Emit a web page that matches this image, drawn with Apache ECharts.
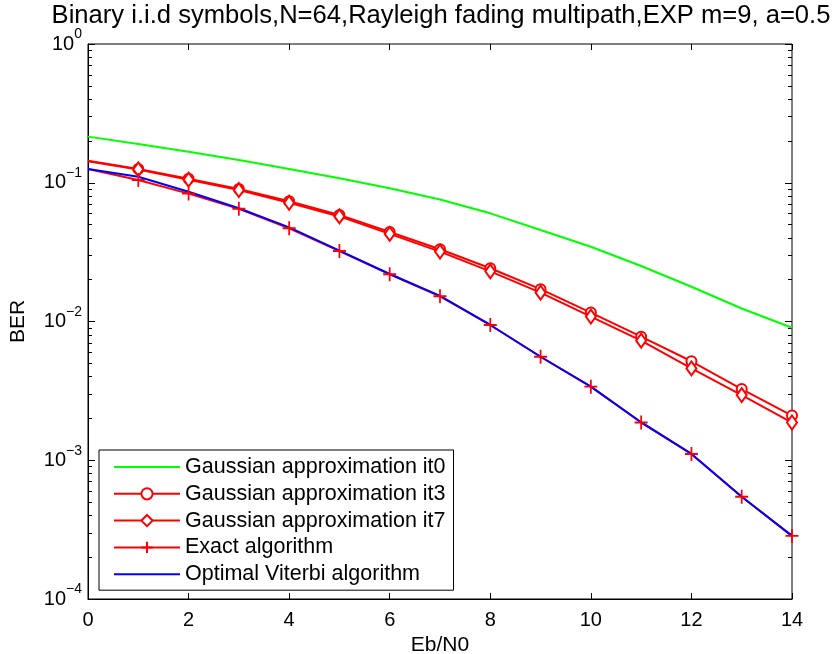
<!DOCTYPE html>
<html>
<head>
<meta charset="utf-8">
<script src="https://cdn.jsdelivr.net/npm/echarts@6/dist/echarts.min.js"></script>
<style>
html,body{margin:0;padding:0;background:#fff;}
#chart{width:840px;height:654px;}
</style>
</head>
<body>
<div id="chart"></div>
<script>
// ---- data ----
const ebn0 = [0, 1, 2, 3, 4, 5, 6, 7, 8, 9, 10, 11, 12, 13, 14];
const gaussIt0 = [0.215, 0.190, 0.1675, 0.146, 0.1257, 0.1076, 0.0912, 0.0758, 0.0602, 0.0456, 0.0346, 0.0251, 0.0178, 0.0124, 0.00902];
const gaussIt3 = [0.1441, 0.1257, 0.1070, 0.0901, 0.0735, 0.0586, 0.0442, 0.0332, 0.0242, 0.0171, 0.0116, 0.00778, 0.00517, 0.00326, 0.00210];
const gaussIt7 = [0.1429, 0.1247, 0.1052, 0.0886, 0.0717, 0.0572, 0.0428, 0.0319, 0.0230, 0.01613, 0.01085, 0.00728, 0.00459, 0.00295, 0.00187];
const exactAlg = [0.1257, 0.1047, 0.0835, 0.0650, 0.0470, 0.0322, 0.0219, 0.0152, 0.00944, 0.00557, 0.00339, 0.00187, 0.00111, 0.000546, 0.000285];
const viterbi  = [0.1257, 0.1106, 0.0862, 0.0655, 0.0477, 0.0324, 0.0220, 0.0153, 0.00944, 0.00557, 0.00339, 0.00188, 0.00111, 0.000546, 0.000285];
const seriesNames = ['Gaussian approximation it0', 'Gaussian approximation it3', 'Gaussian approximation it7', 'Exact algorithm', 'Optimal Viterbi algorithm'];
const xTickStep = 2;
const yDecades = [-4, -3, -2, -1, 0];
const minorMultipliers = [2, 3, 4, 5, 6, 7, 8, 9];
const titleText = 'Binary i.i.d symbols,N=64,Rayleigh fading multipath,EXP m=9, a=0.5';

// ---- helpers ----
function pairs(ys, markFirst) {
  return ebn0.map((x, i) => (i === 0 && markFirst === false) ? { value: [x, ys[i]], symbol: 'none' } : [x, ys[i]]);
}
const minorLog = [];
for (let d = yDecades[0]; d < yDecades[yDecades.length - 1]; d++) {
  minorMultipliers.forEach(k => minorLog.push(d + Math.log10(k)));
}
const majorLog = yDecades.slice();

const plusPath = 'path://M0,7L14,7M7,0L7,14';
const black = '#000';
const red = '#ff0000';

const chart = echarts.init(document.getElementById('chart'), null, { renderer: 'canvas' });

const tickOnlyY = (pos, ticks, len) => ({
  type: 'value', min: yDecades[0], max: yDecades[yDecades.length - 1], position: pos,
  axisLine: { show: false, onZero: false },
  axisLabel: { show: false },
  splitLine: { show: false },
  axisTick: { show: true, inside: true, length: len, lineStyle: { color: black, width: 1 }, customValues: ticks }
});

const option = {
  backgroundColor: '#fff',
  animation: false,
  textStyle: { fontFamily: 'Liberation Sans, Arial, sans-serif' },
  title: {
    text: titleText,
    left: 441, top: 3, textAlign: 'center', padding: 0,
    textStyle: { fontSize: 25.6, fontWeight: 'normal', color: black, fontFamily: 'Liberation Sans, Arial, sans-serif' }
  },
  grid: { left: 88, right: 48, top: 44, bottom: 55, containLabel: false, outerBoundsMode: 'none',
          show: true, borderColor: black, borderWidth: 1, backgroundColor: 'transparent' },
  legend: {
    orient: 'vertical', left: 99, top: 450,
    data: seriesNames.map((n, i) => (i === 0 || i === 4) ? { name: n, itemStyle: { opacity: 0 } } : { name: n }),
    backgroundColor: '#fff', borderColor: black, borderWidth: 1,
    padding: [6, 8, 5, 14],
    itemWidth: 66, itemHeight: 14, itemGap: 4.8,
    textStyle: { fontSize: 21.5, color: black, lineHeight: 21, fontFamily: 'Liberation Sans, Arial, sans-serif' }
  },
  xAxis: [
    {
      type: 'value', min: 0, max: 14, interval: xTickStep, position: 'bottom',
      name: 'Eb/N0', nameLocation: 'middle', nameGap: 36,
      nameTextStyle: { fontSize: 21, color: black },
      axisLine: { show: true, onZero: false, lineStyle: { color: black, width: 1 } },
      axisTick: { show: true, inside: true, length: 6, lineStyle: { color: black } },
      axisLabel: { fontSize: 20, color: black, margin: 11 },
      splitLine: { show: false }
    },
    {
      type: 'value', min: 0, max: 14, interval: xTickStep, position: 'top',
      axisLine: { show: false, onZero: false },
      axisTick: { show: true, inside: true, length: 6, lineStyle: { color: black } },
      axisLabel: { show: false },
      splitLine: { show: false }
    }
  ],
  yAxis: [
    {
      type: 'log', logBase: 10, min: 1e-4, max: 1, position: 'left',
      name: 'BER', nameLocation: 'middle', nameGap: 59,
      nameTextStyle: { fontSize: 21, color: black },
      axisLine: { show: true, onZero: false, lineStyle: { color: black, width: 1 } },
      axisTick: { show: true, inside: true, length: 7, lineStyle: { color: black } },
      splitLine: { show: false },
      minorTick: { show: false },
      axisLabel: {
        margin: 6,
        formatter: v => {
          const e = Math.round(Math.log10(v));
          return '{b|10}{s|' + (e < 0 ? '\u2212' + (-e) : String(e)) + '}';
        },
        rich: {
          b: { fontSize: 20, color: black, lineHeight: 20, verticalAlign: 'middle' },
          s: { fontSize: 14, color: black, lineHeight: 13, verticalAlign: 'middle', padding: [0, 0, 19, 0] }
        }
      }
    },
    tickOnlyY('left', minorLog, 4),
    tickOnlyY('right', majorLog, 7),
    tickOnlyY('right', minorLog, 4)
  ],
  series: [
    {
      name: seriesNames[0], type: 'line', data: pairs(gaussIt0),
      symbol: 'none', lineStyle: { color: '#00ff00', width: 2 }, itemStyle: { color: '#00ff00' }
    },
    {
      name: seriesNames[1], type: 'line', data: pairs(gaussIt3, false),
      symbol: 'emptyCircle', symbolSize: 10,
      lineStyle: { color: red, width: 2 },
      itemStyle: { color: red, borderColor: red, borderWidth: 1.8 }
    },
    {
      name: seriesNames[2], type: 'line', data: pairs(gaussIt7, false),
      symbol: 'emptyDiamond', symbolSize: [10, 14],
      lineStyle: { color: red, width: 2 },
      itemStyle: { color: red, borderColor: red, borderWidth: 1.8 }
    },
    {
      name: seriesNames[3], type: 'line', data: pairs(exactAlg, false),
      symbol: plusPath, symbolSize: [13, 14],
      lineStyle: { color: red, width: 2 },
      itemStyle: { color: red, borderColor: red, borderWidth: 1.8 }
    },
    {
      name: seriesNames[4], type: 'line', data: pairs(viterbi),
      symbol: 'none', lineStyle: { color: '#0000ff', width: 2 }, itemStyle: { color: '#0000ff' }
    }
  ]
};
chart.setOption(option);
</script>
</body>
</html>
